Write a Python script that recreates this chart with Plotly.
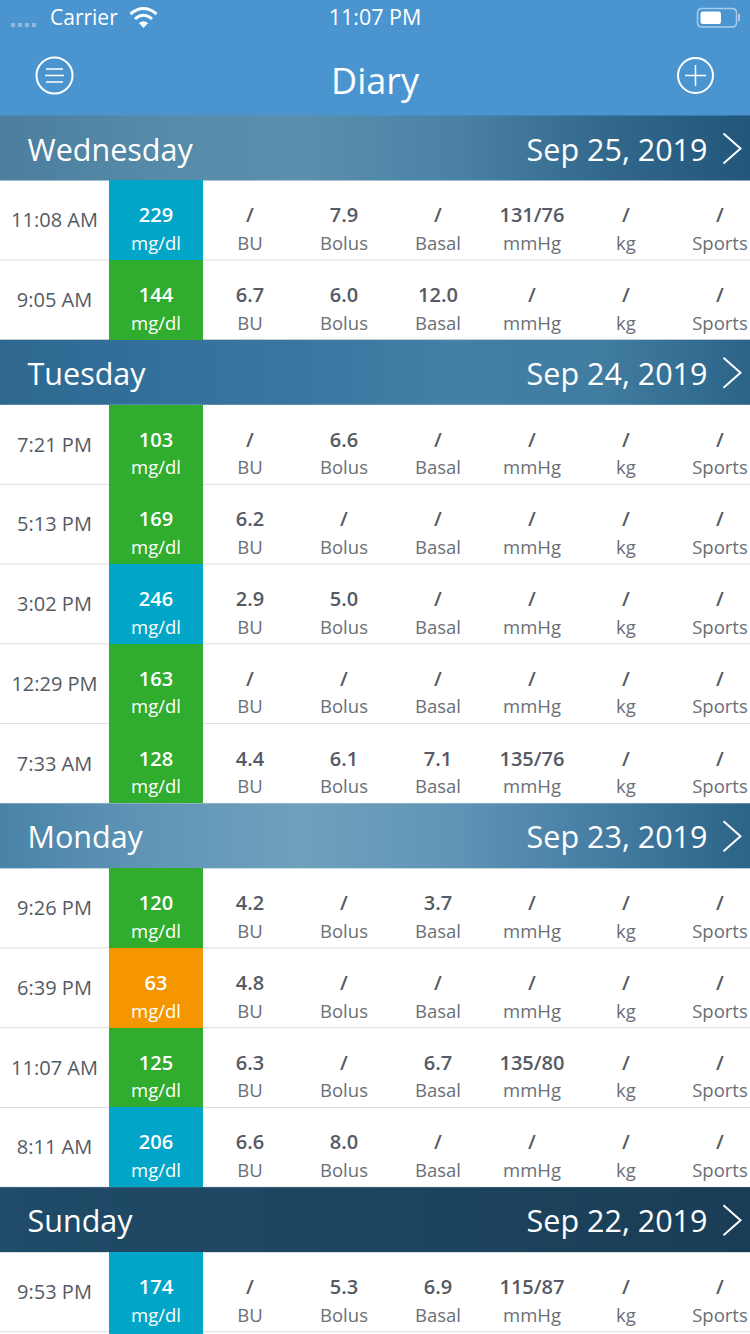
import plotly.graph_objects as go

# ---------- data ----------
days = ["Wednesday", "Tuesday", "Monday", "Sunday"]
dates = ["Sep 25, 2019", "Sep 24, 2019", "Sep 23, 2019", "Sep 22, 2019"]
rows_per_day = [2, 5, 4, 1]
times = ["11:08 AM", "9:05 AM", "7:21 PM", "5:13 PM", "3:02 PM", "12:29 PM", "7:33 AM",
         "9:26 PM", "6:39 PM", "11:07 AM", "8:11 AM", "9:53 PM"]
glucose = [229, 144, 103, 169, 246, 163, 128, 120, 63, 125, 206, 174]
bu = ["/", "6.7", "/", "6.2", "2.9", "/", "4.4", "4.2", "4.8", "6.3", "6.6", "/"]
bolus = ["7.9", "6.0", "6.6", "/", "5.0", "/", "6.1", "/", "/", "/", "8.0", "5.3"]
basal = ["/", "12.0", "/", "/", "/", "/", "7.1", "3.7", "/", "6.7", "/", "6.9"]
pressure = ["131/76", "/", "/", "/", "/", "/", "135/76", "/", "/", "135/80", "/", "115/87"]
weight = ["/"] * 12
sports = ["/"] * 12
columns = [("BU", bu), ("Bolus", bolus), ("Basal", basal), ("mmHg", pressure), ("kg", weight), ("Sports", sports)]

# ---------- layout constants ----------
W, H = 750, 1334
TOP, HEAD, ROW = 115.5, 64.8, 79.75
COL_X = [250, 344, 438, 532, 626, 720]
FONT = "Open Sans"
DARK, MID = "#555a64", "#6a6f78"
HEAD_STOPS = [0, 150, 300, 450, 600, 750]
HEAD_COLORS = [
    ["#4c7e9e", "#558aa9", "#5a8fad", "#4b82a5", "#33698d", "#22567b"],
    ["#2e6890", "#33709a", "#3a76a0", "#4280a6", "#417ca1", "#2b6488"],
    ["#4a83a8", "#6095b6", "#6fa1bd", "#6095b6", "#457da3", "#2c6488"],
    ["#204c69", "#1e4864", "#1d4661", "#1c435e", "#1b405a", "#1a3d57"],
]


def glucose_color(v):
    if v < 70:
        return "#f59500"
    return "#00a5c8" if v >= 170 else "#30ad2f"


# derive table geometry
head_tops, row_tops, y = [], [], TOP
for n in rows_per_day:
    head_tops.append(y)
    y += HEAD
    for _ in range(n):
        row_tops.append(y)
        y += ROW

fig = go.Figure()

# section header gradients
for top, cols in zip(head_tops, HEAD_COLORS):
    n = len(cols) - 1
    fig.add_trace(go.Heatmap(
        x=HEAD_STOPS, y=[top + HEAD / 4, top + 3 * HEAD / 4], z=[list(range(n + 1))] * 2,
        zmin=0, zmax=n, zsmooth="best", showscale=False, hoverinfo="skip",
        colorscale=[[i / n, c] for i, c in enumerate(cols)]))

# glucose cells (extended slightly under the last row so the bottom edge stays coloured)
fig.add_trace(go.Bar(
    x=[156] * len(glucose), y=[ROW] * (len(glucose) - 1) + [ROW + 4], base=row_tops, width=94,
    marker=dict(color=[glucose_color(v) for v in glucose], line=dict(width=0)),
    hoverinfo="skip"))


def text(xs, ys, labels, size, color, weight=400, pos="middle center"):
    fig.add_trace(go.Scatter(
        x=xs, y=ys, text=labels, mode="text", textposition=pos, hoverinfo="skip",
        textfont=dict(family=FONT, size=size, color=color, weight=weight)))


# row texts
text([54.5] * len(times), [t + 42 for t in row_tops], times, 20, DARK)
text([156] * len(glucose), [t + 37 for t in row_tops], [str(v) for v in glucose], 20, "#ffffff", 600)
text([156] * len(glucose), [t + 65 for t in row_tops], ["mg/dl"] * len(glucose), 18.5, "#ffffff")
for cx, (unit, vals) in zip(COL_X, columns):
    text([cx] * len(vals), [t + 37 for t in row_tops], vals, 20, DARK, 600)
    text([cx] * len(vals), [t + 65 for t in row_tops], [unit] * len(vals), 18.5, MID)

# header texts
text([27.5] * 4, [t + 37.5 for t in head_tops], days, 30.5, "#ffffff", pos="middle right")
text([707.5] * 4, [t + 37.5 for t in head_tops], dates, 30.5, "#ffffff", pos="middle left")

# nav bar texts
text([375], [85], ["Diary"], 36, "#ffffff")
text([375], [20], ["11:07 PM"], 21.5, "#ffffff")
text([50], [20], ["Carrier"], 21, "#ffffff", pos="middle right")

# signal dots
fig.add_trace(go.Scatter(x=[13, 20, 27, 34], y=[25] * 4, mode="markers", hoverinfo="skip",
                         marker=dict(symbol="square", size=4, color="#8fb8dc")))

shapes = [dict(type="rect", x0=0, x1=W, y0=0, y1=TOP + 1, layer="below", fillcolor="#4a95d0", line_width=0)]
for t in row_tops:
    shapes.append(dict(type="line", x0=0, x1=W, y0=t + ROW, y1=t + ROW, layer="below",
                       line=dict(color="#dcdcdc", width=1)))
WHITE = dict(color="#ffffff", width=2)
for t in head_tops:
    m = t + 33
    shapes.append(dict(type="path", path=f"M723.5,{m-15} L740.5,{m} L723.5,{m+15}", line=WHITE))
# menu and plus icons
shapes += [
    dict(type="circle", x0=36.5, x1=72.5, y0=57.5, y1=93.5, line=WHITE),
    dict(type="circle", x0=678, x1=713, y0=58, y1=93, line=WHITE),
    dict(type="path", path="M685,75.5 L706,75.5 M695.5,65 L695.5,86", line=dict(color="#ffffff", width=1.5)),
    dict(type="path", path="M46,69 L63,69 M45,75.5 L64,75.5 M46,82 L63,82", line=dict(color="#ffffff", width=1.5)),
    # wifi
    dict(type="path", path="M130.5,14 Q143.5,3 156.5,14", line=dict(color="#ffffff", width=3)),
    dict(type="path", path="M135,19 Q143.5,11.5 152,19", line=dict(color="#ffffff", width=3)),
    dict(type="path", path="M139,23 Q143.5,19.5 148,23 L143.5,28 Z", fillcolor="#ffffff", line_width=0),
    # battery
    dict(type="path", path="M702,8.5 L732,8.5 Q736.5,8.5 736.5,13 L736.5,22.5 Q736.5,27 732,27 L702,27 Q697.5,27 697.5,22.5 L697.5,13 Q697.5,8.5 702,8.5 Z",
         line=dict(color="#a9cbe8", width=1.5)),
    dict(type="path", path="M703,11.5 L719,11.5 Q721,11.5 721,14 L721,21.5 Q721,24 719,24 L703,24 Q700.5,24 700.5,21.5 L700.5,14 Q700.5,11.5 703,11.5 Z",
         fillcolor="#ffffff", line_width=0),
    dict(type="rect", x0=738, x1=740, y0=14, y1=21, fillcolor="#a9cbe8", line_width=0),
]

fig.update_layout(
    width=W, height=H, margin=dict(l=0, r=0, t=0, b=0), showlegend=False,
    paper_bgcolor="#ffffff", plot_bgcolor="#ffffff", shapes=shapes, bargap=0,
    xaxis=dict(range=[0, W], visible=False, fixedrange=True),
    yaxis=dict(range=[H, 0], visible=False, fixedrange=True),
)
fig.write_html("out.html", config=dict(displayModeBar=False),
               post_script="document.body.style.margin='0';document.documentElement.style.overflow='hidden';")
